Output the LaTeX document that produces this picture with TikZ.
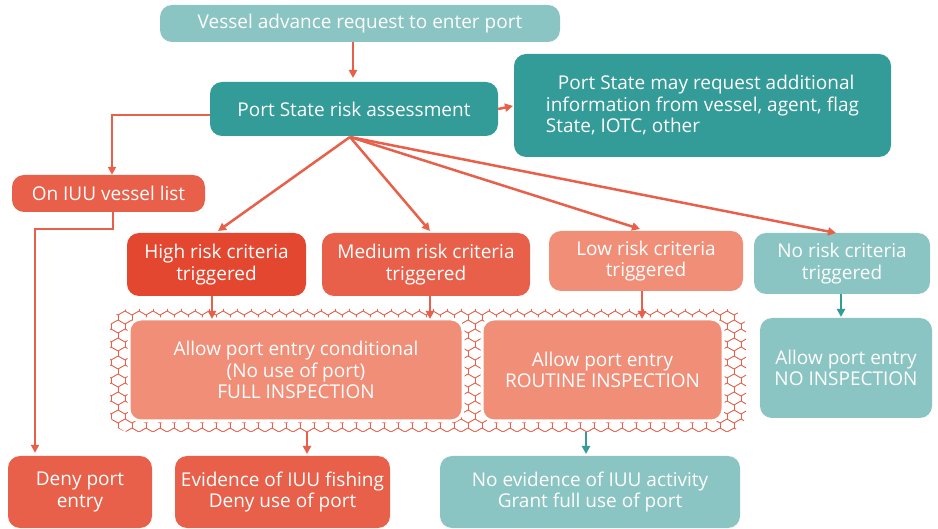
\documentclass[tikz,border=0pt]{standalone}
\usepackage{fontspec}
\setmainfont{Open Sans}
\usetikzlibrary{arrows.meta}
\definecolor{dteal}{HTML}{339B98}
\definecolor{lteal}{HTML}{8AC5C3}
\definecolor{cred}{HTML}{E8604A}
\definecolor{hred}{HTML}{E4472F}
\definecolor{salmon}{HTML}{F08E78}
\tikzset{
  box/.style={rounded corners=12pt, text=white, align=center, inner sep=0pt,
    font=\fontsize{19}{21.5}\selectfont},
  arr/.style={-{Triangle[length=8pt,width=8pt]}, line width=2.5pt, draw=cred},
  tarr/.style={-{Triangle[length=8pt,width=8pt]}, line width=2.5pt, draw=dteal},
  pat/.style={draw=cred, line width=0.9pt, line join=round},
}
\begin{document}
\begin{tikzpicture}[x=1pt,y=-1pt]
\useasboundingbox (0,0) rectangle (938,529);
% patterned region
\begin{scope}
\clip[rounded corners=20pt] (110,309) rectangle (746,432);
\foreach \j in {0,...,15} {
  \pgfmathsetmacro\yy{302+9*\j}
  \pgfmathtruncatemacro\pp{mod(\j,2)}
  \draw[pat] (104,{\yy+4*mod(\pp,2)}) \foreach \k in {1,...,93} { -- ({104+7*\k},{\yy+4*mod(\k+\pp,2)}) };
  \foreach \m in {0,...,46} {
    \draw[pat] ({111-7*\pp+14*\m},{\yy+4}) -- ({111-7*\pp+14*\m},{\yy+9});
  }
}
\end{scope}
% nodes
\node[box, fill=lteal, minimum width=400pt, minimum height=37pt] (req) at (360,23.5) {Vessel advance request to enter port};
\node[box, fill=dteal, minimum width=288pt, minimum height=54pt] (psra) at (354,109) {Port State risk assessment};
\node[box, fill=dteal, minimum width=377pt, minimum height=103pt, align=left] (info) at (702.5,105.5) {\hspace*{12pt}Port State may request additional\\information from vessel, agent, flag\\State, IOTC, other};
\node[box, fill=cred, minimum width=193pt, minimum height=37pt] (iuu) at (108.5,193.5) {On IUU vessel list};
\node[box, fill=hred, minimum width=179pt, minimum height=63pt] (high) at (216.5,264.5) {High risk criteria\\triggered};
\node[box, fill=cred, minimum width=208pt, minimum height=63pt] (med) at (426,264.5) {Medium risk criteria\\triggered};
\node[box, fill=salmon, minimum width=194pt, minimum height=60pt] (low) at (646,261) {Low risk criteria\\triggered};
\node[box, fill=lteal, minimum width=176pt, minimum height=61pt] (nor) at (842,263.5) {No risk criteria\\triggered};
\node[box, fill=salmon, draw=white, line width=3pt, minimum width=334pt, minimum height=102pt] (cond) at (296,370) {Allow port entry conditional\\(No use of port)\\FULL INSPECTION};
\node[box, fill=salmon, draw=white, line width=3pt, minimum width=241pt, minimum height=102pt] (rout) at (602.5,370) {Allow port entry\\ROUTINE INSPECTION};
\node[box, fill=lteal, minimum width=172pt, minimum height=100pt] (noin) at (846,368) {Allow port entry\\NO INSPECTION};
\node[box, fill=cred, minimum width=144pt, minimum height=72pt] (deny) at (80,492) {Deny port\\entry};
\node[box, fill=cred, minimum width=215pt, minimum height=72pt] (evid) at (282.5,492) {Evidence of IUU fishing\\Deny use of port};
\node[box, fill=lteal, minimum width=300pt, minimum height=72pt] (noev) at (590,492) {No evidence of IUU activity\\Grant full use of port};
% connectors
\draw[arr] (req.south -| 353,0) -- (353,78);
\draw[arr] (psra.east) -- (513,106);
\coordinate (c1) at (210,115);
\coordinate (c2) at (112,115);
\draw[arr] (c1) -- (c2) -- (iuu.north -| c2);
\coordinate (d1) at (113,212);
\coordinate (d2) at (113,229);
\coordinate (d3) at (35,229);
\draw[arr, shorten >=3pt] (d1) -- (d2) -- (d3) -- (deny.north -| d3);
\coordinate (o) at (350,137);
\draw[arr] (o) -- (218,231);
\draw[arr] (o) -- (430,231);
\draw[arr] (o) -- (640,229);
\draw[arr] (o) -- (836,233);
\draw[arr] (212,296) -- (212,319);
\draw[arr] (430,296) -- (430,319);
\draw[arr] (642,291) -- (642,319);
\draw[tarr] (nor.south -| 841,0) -- (841,317);
\draw[arr] (307,432) -- (307,454);
\draw[tarr] (586,432) -- (586,454);
\end{tikzpicture}
\end{document}
